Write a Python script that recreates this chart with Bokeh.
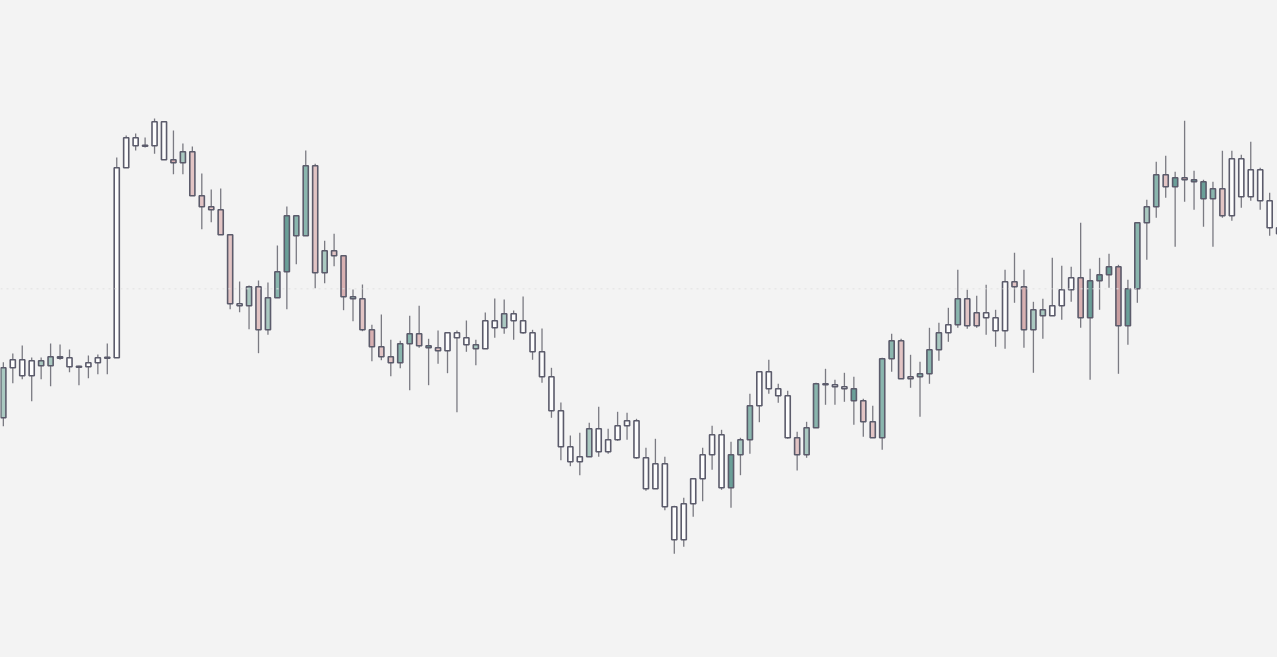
from bokeh.plotting import figure
from bokeh.models import Range1d, Span, ColumnDataSource
from bokeh.embed import file_html
from bokeh.resources import INLINE

# Candle data (price units)
high = [295.3, 304, 312, 300, 300, 314, 313, 308, 291.7, 302, 303, 314, 500, 522, 524, 520, 539, 535.7, 527, 514,
        511, 484, 468, 469, 422.7, 376, 372, 377, 375, 412, 451, 441.7, 507, 493.7, 416.7, 423.7, 401.7, 368, 373, 332.7,
        343, 317.7, 316.7, 341.7, 351.7, 318.7, 327, 324.7, 327, 337, 317.7, 345, 359, 358, 347, 361, 327.7, 329, 289.7, 255,
        222, 224.7, 234.7, 250.7, 228.7, 245.7, 244.7, 238.7, 209.7, 218.7, 200.7, 151.7, 159.7, 178.7, 209.7, 231.7, 227.7, 215.7, 219.7, 263.7,
        285.7, 297.7, 273.7, 266.7, 225.7, 235.7, 274.7, 288.7, 277.7, 284.7, 280.7, 258.7, 251.7, 299.7, 323.7, 318.7, 302.7, 295.7, 329.7, 334.7,
        349.7, 387.7, 367.7, 361.7, 372.7, 347.7, 387.7, 404.7, 387.7, 355.7, 358.7, 399.7, 391.7, 390.7, 434.7, 388.7, 399.7, 403.7, 392.7, 377.7,
        434.7, 457.7, 495.7, 501.7, 485.7, 536.7, 486.7, 477.7, 475.7, 506.7, 506.7, 502.7, 515.7, 489.7, 464.7, 433]
body_top = [289.7, 297.7, 297.7, 296.7, 296.7, 300.7, 300.7, 299.7, 291.2, 294.7, 299.7, 300.2, 489.7, 519.7, 519.7, 512.2, 535.7, 535.7, 497.7, 505.7,
            505.7, 461.7, 450.7, 447.7, 422.7, 353.7, 370.7, 370.7, 359.7, 385.7, 441.7, 441.7, 491.7, 491.7, 406.7, 406.7, 401.7, 360.7, 358.7, 327.7,
            310.7, 300.7, 313.7, 323.7, 323.7, 311.7, 309.7, 324.7, 324.7, 319.7, 312.7, 336.7, 336.7, 343.7, 343.7, 336.7, 324.7, 305.7, 280.7, 246.7,
            210.7, 200.7, 228.7, 228.7, 217.7, 231.7, 236.7, 236.7, 199.7, 193.7, 193.7, 150.7, 153.7, 178.7, 202.7, 222.7, 222.7, 202.7, 217.7, 251.7,
            285.7, 285.7, 268.7, 261.7, 219.7, 229.7, 273.7, 273.7, 272.7, 270.7, 268.7, 256.7, 235.7, 298.7, 316.7, 316.7, 280.7, 283.7, 307.7, 324.7,
            332.7, 358.7, 358.7, 344.7, 344.7, 339.7, 375.7, 375.7, 370.7, 347.7, 347.7, 351.7, 367.7, 379.7, 379.7, 376.7, 382.7, 390.7, 390.7, 368.7,
            434.7, 450.7, 482.7, 482.7, 479.7, 479.7, 477.7, 475.7, 468.7, 468.7, 498.7, 498.7, 487.7, 487.7, 456.7, 429.7]
body_bot = [239.7, 289.7, 281.7, 281.7, 291.7, 291.7, 299.3, 290.7, 290.2, 290.7, 294.7, 299.2, 299.7, 489.7, 511.7, 511.2, 511.7, 497.7, 494.7, 494.7,
            461.7, 450.7, 447.7, 422.7, 353.7, 351.7, 351.7, 327.7, 327.7, 359.7, 385.7, 421.7, 421.7, 384.7, 384.7, 401.7, 360.7, 358.7, 327.7, 310.7,
            300.7, 294.7, 294.7, 313.7, 311.7, 309.7, 306.7, 306.7, 319.7, 312.7, 308.7, 308.7, 329.7, 329.7, 336.7, 324.7, 305.7, 280.7, 246.7, 210.7,
            195.7, 195.7, 200.7, 205.7, 205.7, 217.7, 231.7, 199.7, 168.7, 168.7, 150.7, 117.7, 117.7, 153.7, 178.7, 202.7, 169.7, 169.7, 202.7, 217.7,
            251.7, 268.7, 261.7, 219.7, 202.7, 202.7, 229.7, 272.7, 270.7, 268.7, 256.7, 235.7, 219.7, 219.7, 298.7, 278.7, 278.7, 280.7, 283.7, 307.7,
            324.7, 332.7, 331.7, 331.7, 339.7, 326.7, 326.7, 370.7, 327.7, 327.7, 341.7, 341.7, 351.7, 367.7, 339.7, 339.7, 376.7, 382.7, 331.7, 331.7,
            368.7, 434.7, 450.7, 470.7, 470.7, 477.7, 475.7, 458.7, 458.7, 441.7, 441.7, 460.7, 460.7, 456.7, 429.7, 423.7]
low = [231.3, 274.3, 278.3, 256.3, 278.3, 271.3, 297.7, 285.3, 272.3, 279.3, 283.3, 283.3, 299.7, 489.7, 507, 510, 503.7, 497.7, 483.3, 483.3,
       461.7, 428.3, 435.3, 422.7, 348.3, 345.3, 328.3, 304.3, 322.7, 359.7, 348.3, 393.3, 421.7, 369.3, 374.3, 391.3, 347.3, 336.3, 326.3, 296.3,
       297.3, 281.3, 289.3, 267.3, 309.7, 272.3, 293.7, 284.3, 245.3, 305.7, 292.3, 308.7, 319.7, 323.7, 317.7, 323.7, 297.7, 274.7, 239.7, 197.3,
       191.3, 182.3, 200.7, 200.7, 203.7, 216.7, 217.7, 198.7, 166.7, 168.7, 147.3, 103.7, 110.7, 140.7, 156.3, 187.7, 167.7, 149.7, 182.3, 203.7,
       235.3, 263.7, 254.7, 218.7, 187, 199.7, 229.7, 252.7, 252.7, 255.7, 232.7, 220.7, 219.7, 207.7, 285.7, 278.7, 269.7, 240.7, 273.7, 296.7,
       315.7, 329.7, 328.7, 329.7, 322.7, 310.7, 308.7, 354.7, 309.7, 284.7, 318.7, 341.7, 337.7, 355.7, 329.7, 277.7, 347.7, 369.7, 283.7, 312.7,
       354.7, 397.7, 439.7, 459.7, 410.7, 455.7, 447.7, 430.7, 410.7, 439.7, 436.7, 449.7, 456.7, 447.7, 421.7, 417]
# candle style class: w = white, g1..g3 = green shades, p1..p3 = pink shades
kind = ["g1", "w", "w", "w", "g1", "g1", "g3", "w", "w", "w", "w", "w", "w", "w", "w", "w", "w", "w", "p2", "g1",
        "p1", "p1", "p1", "p1", "p1", "w", "g1", "p1", "g1", "g2", "g3", "g2", "g2", "p1", "g1", "p1", "p2", "g1", "p1", "p2",
        "p1", "p1", "g2", "g2", "p1", "g3", "p1", "w", "w", "w", "g1", "w", "w", "g1", "w", "w", "w", "w", "w", "w",
        "w", "w", "g1", "w", "w", "w", "w", "w", "w", "w", "w", "w", "w", "w", "w", "w", "w", "g3", "g1", "g2",
        "w", "w", "w", "w", "p1", "g1", "g2", "g3", "w", "w", "g3", "p1", "p1", "g2", "g2", "p1", "p1", "g2", "g2", "g1",
        "w", "g2", "p1", "p1", "w", "w", "w", "p1", "p2", "g1", "g1", "w", "w", "w", "p2", "g3", "g3", "g3", "p3", "g3",
        "g2", "g1", "g2", "p1", "g3", "p2", "g3", "g3", "g2", "p1", "w", "w", "w", "w", "w", "w"]
ref_level = 368.7

palette = {"w": "#fdfdfd", "g1": "#aac9c1", "g2": "#8ab6ae", "g3": "#6a9f98",
           "p1": "#e2c4c4", "p2": "#d8b0b1", "p3": "#c99ea0"}

n = len(high)
idx = list(range(n))
opens = [body_bot[i] if kind[i][0] != "p" else body_top[i] for i in idx]
closes = [body_top[i] if kind[i][0] != "p" else body_bot[i] for i in idx]
src = ColumnDataSource(dict(
    x=idx, high=high, low=low, open=opens, close=closes,
    top=body_top, bottom=body_bot, color=[palette[k] for k in kind]))

p = figure(width=1277, height=657, output_backend="svg", toolbar_location=None,
           x_range=Range1d(-0.3016, 134.83), y_range=Range1d(0, 657),
           min_border=0, min_border_left=0, min_border_right=0,
           min_border_top=0, min_border_bottom=0,
           background_fill_color="#f3f3f3", border_fill_color="#f3f3f3",
           outline_line_color=None)
p.xaxis.visible = False
p.yaxis.visible = False
p.xgrid.visible = False
p.ygrid.visible = False

p.add_layout(Span(location=ref_level, dimension="width", line_color="#e2e2e2",
                  line_width=1, line_dash="2 4"))

p.segment(x0="x", y0="low", x1="x", y1="high", source=src,
          line_color="#7a7a82", line_width=1.3)
p.vbar(x="x", top="top", bottom="bottom", width=0.54, source=src,
       fill_color="color", line_color="#5b5b6b", line_width=1.6)

html = file_html(p, INLINE)
html = html.replace("<head>", "<head>\n<style>html,body{margin:0;padding:0;overflow:hidden;background:#f3f3f3;}</style>", 1)
open("out.html", "w").write(html)
